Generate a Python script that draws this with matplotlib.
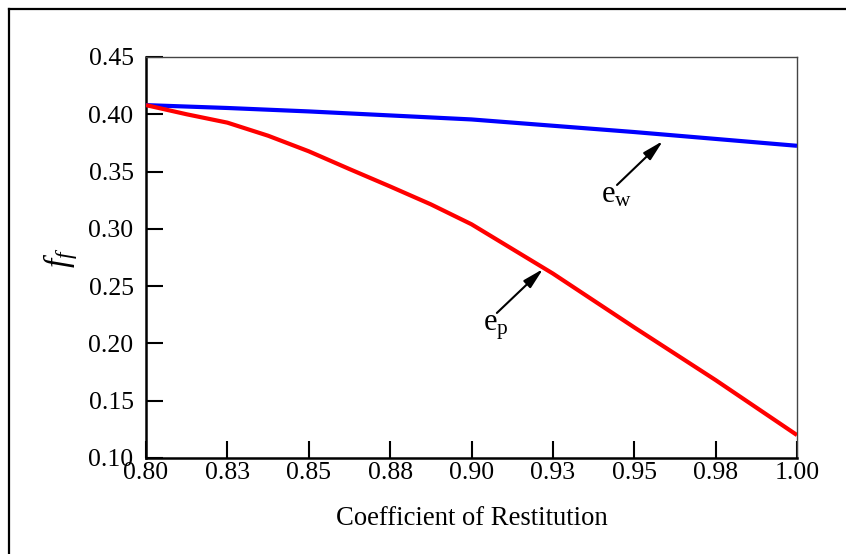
import matplotlib
matplotlib.use("Agg")
import matplotlib.pyplot as plt
from matplotlib.lines import Line2D

plt.rcParams['font.family'] = ['Liberation Serif', 'DejaVu Serif']
plt.rcParams['mathtext.fontset'] = 'custom'
plt.rcParams['mathtext.rm'] = 'Liberation Serif'
plt.rcParams['mathtext.it'] = 'Liberation Serif:italic'

# Friction factor f_f against wall restitution e_w
restitution_w = [0.800, 0.825, 0.850, 0.875, 0.900, 0.925, 0.950, 0.975, 1.000]
ff_wall = [0.408, 0.4055, 0.4025, 0.399, 0.3955, 0.390, 0.3845, 0.3785, 0.3725]

# Friction factor f_f against particle restitution e_p
restitution_p = [0.800, 0.8125, 0.825, 0.8375, 0.850, 0.8625, 0.875, 0.8875,
                 0.900, 0.925, 0.950, 0.975, 1.000]
ff_particle = [0.408, 0.400, 0.3927, 0.3813, 0.3677, 0.3522, 0.337, 0.3214,
               0.304, 0.261, 0.214, 0.168, 0.120]

x_ticks = [0.800, 0.825, 0.850, 0.875, 0.900, 0.925, 0.950, 0.975, 1.000]
x_tick_labels = ['0.80', '0.83', '0.85', '0.88', '0.90', '0.93', '0.95', '0.98', '1.00']
y_ticks = [0.10, 0.15, 0.20, 0.25, 0.30, 0.35, 0.40, 0.45]
y_tick_labels = ['0.10', '0.15', '0.20', '0.25', '0.30', '0.35', '0.40', '0.45']

W, H = 846, 554
fig = plt.figure(figsize=(W / 100, H / 100), dpi=100)
ax = fig.add_axes([146 / W, 1 - 458 / H, (797 - 146) / W, (458 - 57) / H])

ax.plot(restitution_w, ff_wall, color='#0000ff', lw=3.0, solid_capstyle='butt', zorder=3)
ax.plot(restitution_p, ff_particle, color='#ff0000', lw=3.0, solid_capstyle='butt', zorder=3)

ax.set_xlim(0.80, 1.00)
ax.set_ylim(0.10, 0.45)
ax.set_xticks(x_ticks)
ax.set_xticklabels(x_tick_labels)
ax.set_yticks(y_ticks)
ax.set_yticklabels(y_tick_labels)

ax.tick_params(axis='both', which='major', direction='in', length=12, width=1.5,
               labelsize=18.5, color='black', top=False, right=False)
ax.tick_params(axis='x', pad=3)
ax.tick_params(axis='y', pad=9)

for side in ('left', 'bottom'):
    ax.spines[side].set_linewidth(1.8)
    ax.spines[side].set_color('black')
for side in ('top', 'right'):
    ax.spines[side].set_linewidth(1.0)
    ax.spines[side].set_color('#444444')

ax.set_xlabel('Coefficient of Restitution', fontsize=19.2, labelpad=16)
ax.set_ylabel(r'$f_f$', fontsize=24, labelpad=6)

# Arrows pointing to each curve, with their labels
arrow_kw = dict(arrowstyle='-|>,head_length=0.9,head_width=0.22', color='black',
                lw=1.5, shrinkA=0, shrinkB=0, mutation_scale=14)
ax.annotate('', xy=(0.9588, 0.3767), xytext=(0.9447, 0.3383), arrowprops=arrow_kw)
ax.annotate('', xy=(0.9220, 0.2650), xytext=(0.9078, 0.2266), arrowprops=arrow_kw)
ax.text(0.9398, 0.3226, r'$\mathrm{e}_\mathrm{w}$', fontsize=22, ha='left', va='baseline')
ax.text(0.9035, 0.2117, r'$\mathrm{e}_\mathrm{p}$', fontsize=22, ha='left', va='baseline')

# Frame around the figure (top and left edges)
fig.add_artist(Line2D([9 / W, 1.0], [1 - 9 / H, 1 - 9 / H], transform=fig.transFigure,
                      color='black', lw=1.6))
fig.add_artist(Line2D([9 / W, 9 / W], [1 - 9 / H, 0.0], transform=fig.transFigure,
                      color='black', lw=1.6))

fig.savefig('out.png', dpi=100)
